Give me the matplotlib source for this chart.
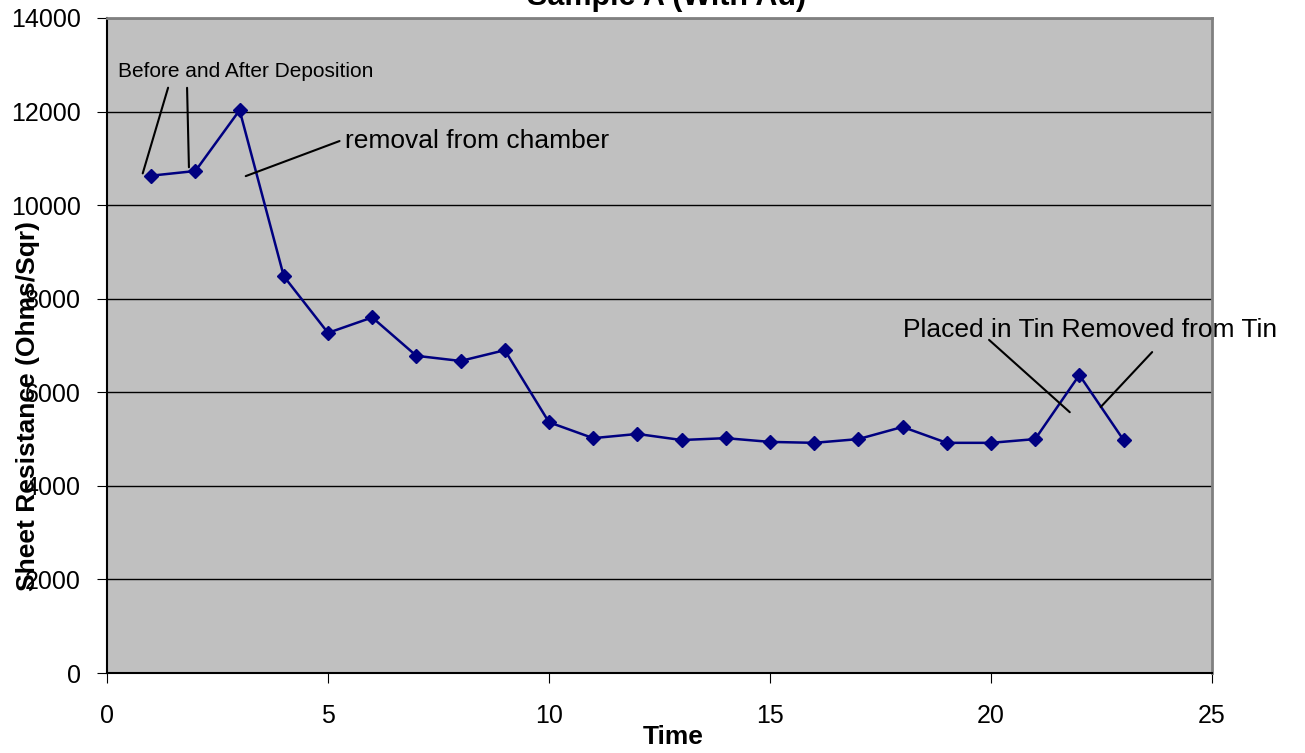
import numpy as np
import matplotlib.pyplot as plt

plt.rcParams['font.family'] = ['Liberation Sans', 'DejaVu Sans']

# readings per time step
time = np.arange(1, 24)
resistance = [10630, 10730, 12030, 8480, 7270, 7600, 6780, 6670, 6900, 5360,
              5020, 5110, 4980, 5020, 4940, 4920, 5000, 5260, 4920, 4920,
              5000, 6370, 4980]

fig = plt.figure(figsize=(13.05, 7.53), dpi=100)
ax = fig.add_axes([0.082, 0.1062, 0.8467, 0.8699])
ax.set_facecolor('#c0c0c0')

ax.plot(time, resistance, color='#000080', lw=1.8, marker='D', ms=7, zorder=3)

ax.set_xlim(0, 25)
ax.set_ylim(0, 14000)
ax.set_xticks(np.arange(0, 26, 5))
ax.set_yticks(np.arange(0, 14001, 2000))
ax.yaxis.grid(True, color='black', lw=1)
ax.set_axisbelow(True)
ax.tick_params(labelsize=18, length=7, direction='out')
ax.tick_params(axis='x', pad=15)
ax.tick_params(axis='y', pad=12)
for s in ['top', 'right']:
    ax.spines[s].set_color('#808080')
    ax.spines[s].set_linewidth(2)
for s in ['left', 'bottom']:
    ax.spines[s].set_linewidth(1.5)

# notes
ax.text(0.25, 12866, 'Before and After Deposition', fontsize=15, va='center')
ax.annotate('', xy=(0.79, 10622), xytext=(1.40, 12567), arrowprops=dict(arrowstyle='-', lw=1.5))
ax.annotate('', xy=(1.855, 10750), xytext=(1.81, 12567), arrowprops=dict(arrowstyle='-', lw=1.5))
ax.text(5.38, 11370, 'removal from chamber', fontsize=19, va='center')
ax.annotate('', xy=(3.08, 10600), xytext=(5.32, 11391), arrowprops=dict(arrowstyle='-', lw=1.5))
ax.text(18.01, 7331, 'Placed in Tin Removed from Tin', fontsize=19, va='center', clip_on=False)
ax.annotate('', xy=(21.83, 5535), xytext=(19.91, 7160), arrowprops=dict(arrowstyle='-', lw=1.5))
ax.annotate('', xy=(22.44, 5642), xytext=(23.69, 6903), arrowprops=dict(arrowstyle='-', lw=1.5))

fig.text(0.511, 1 - 5 / 753, 'Sample A (With Au)', fontsize=22, fontweight='bold',
         ha='center', va='baseline')
fig.text(0.516, 1 - 737 / 753, 'Time', fontsize=19, fontweight='bold', ha='center', va='center')
fig.text(28 / 1305, 1 - 406 / 753, 'Sheet Resistance (Ohms/Sqr)', fontsize=19,
         fontweight='bold', rotation=90, ha='center', va='center')

fig.savefig('out.png', dpi=100)
